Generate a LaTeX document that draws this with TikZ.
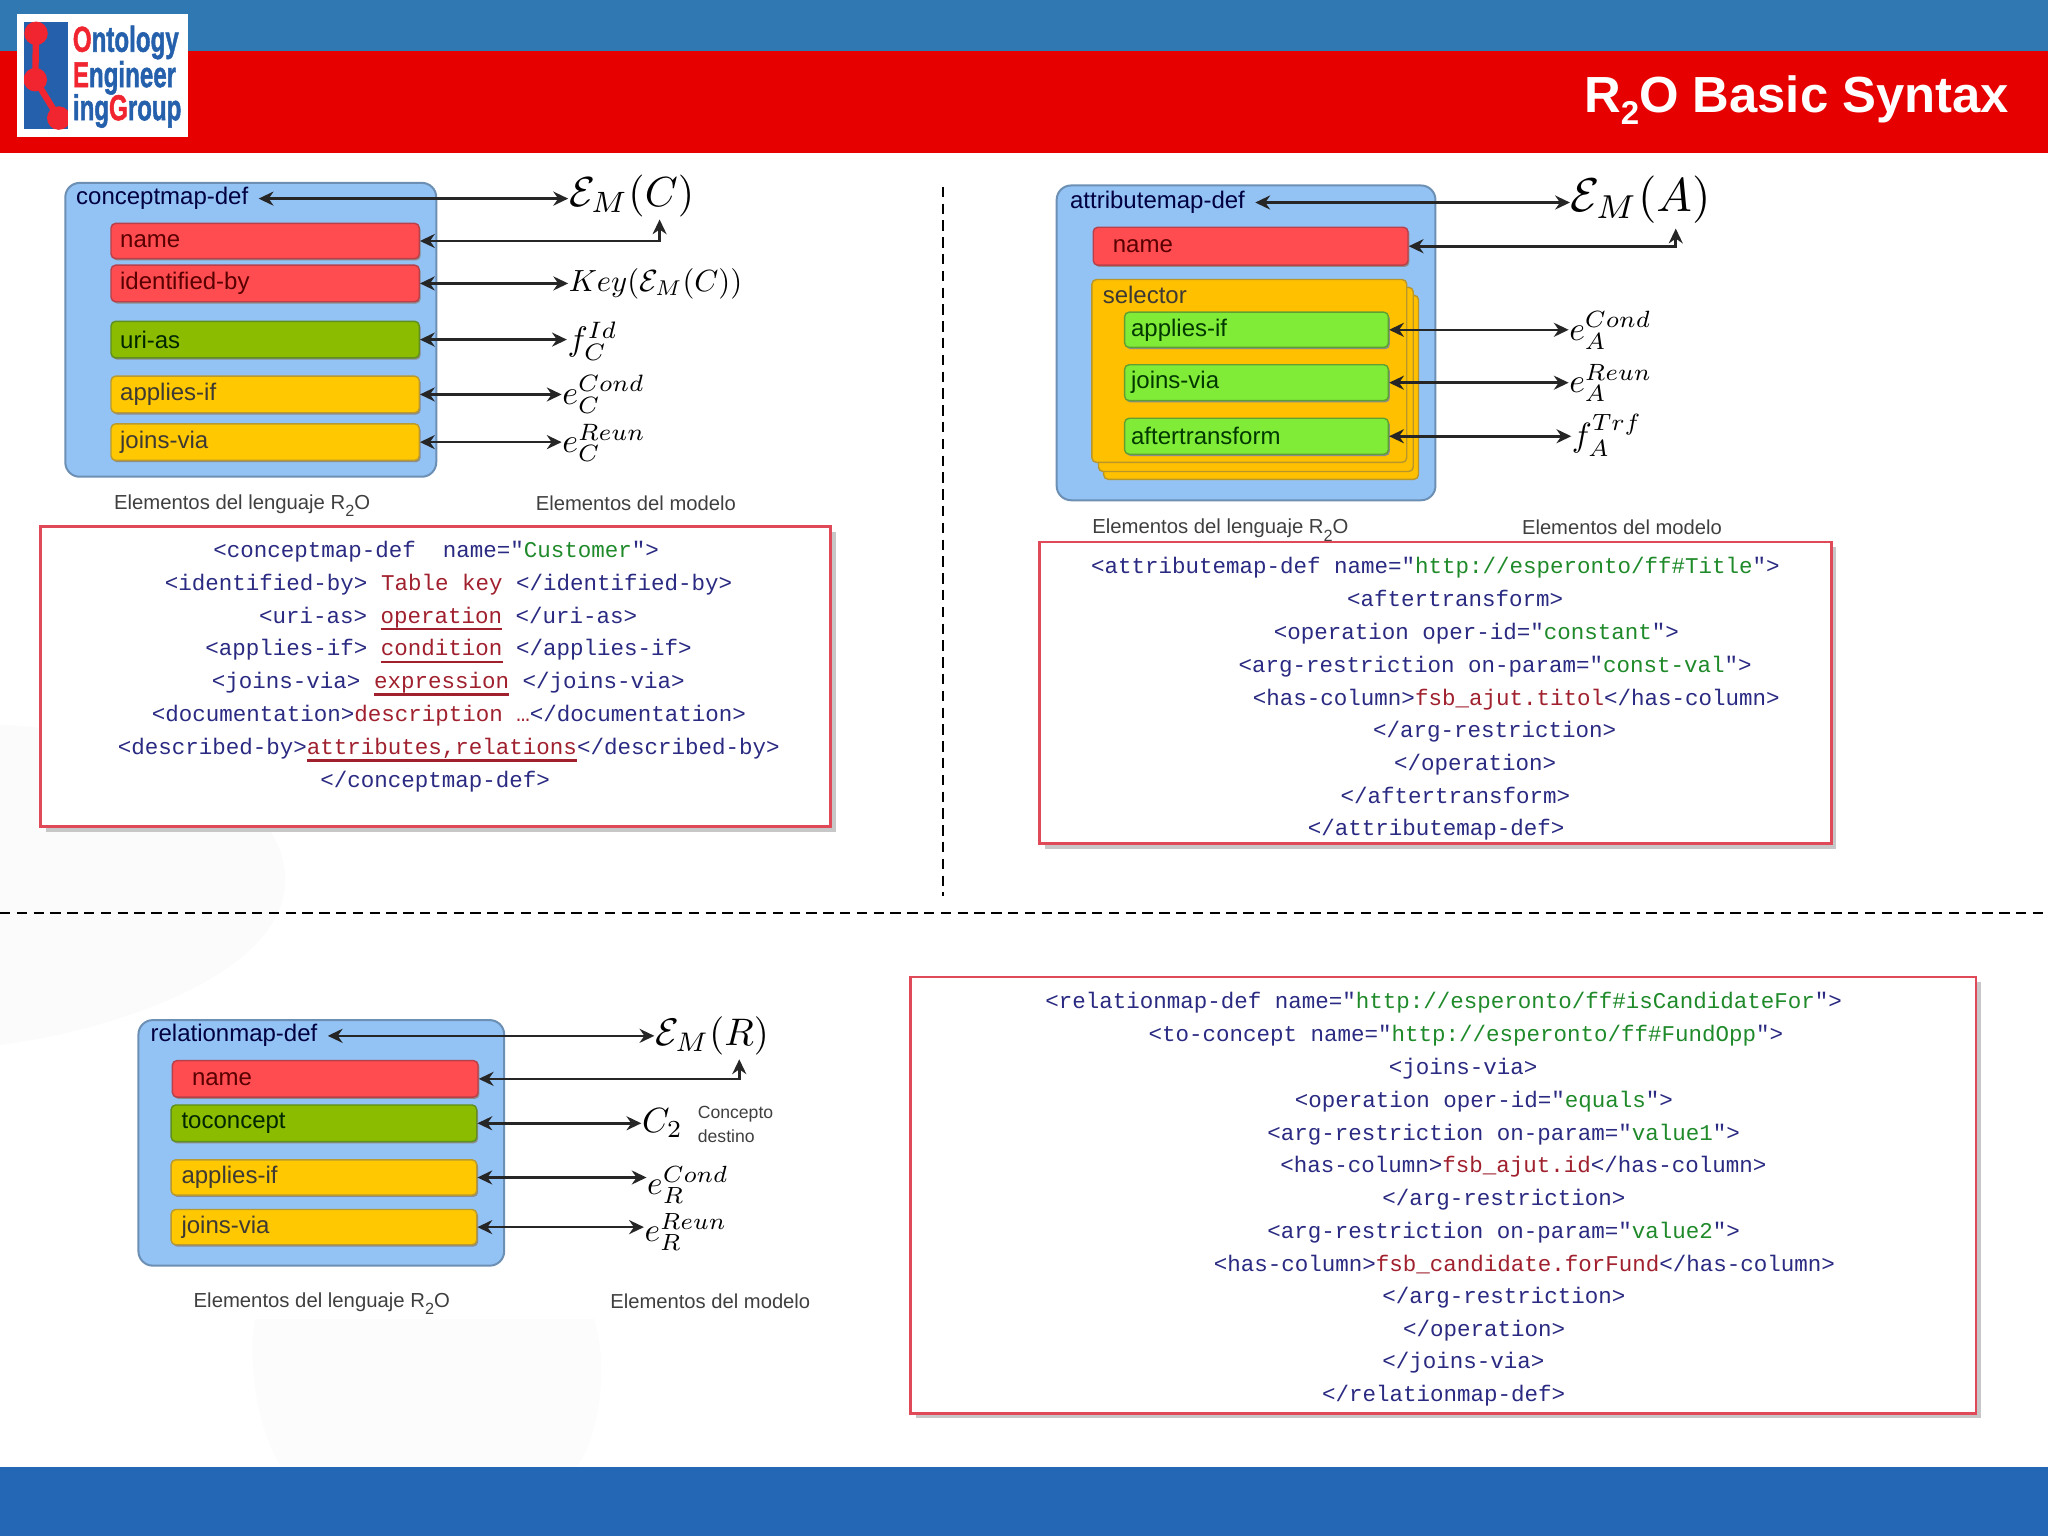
\documentclass[tikz,border=0pt]{standalone}
\usepackage[no-math]{fontspec}
\usepackage{graphicx}
\setmainfont{Liberation Sans}
\newfontfamily\codefont{Liberation Mono}
\newfontfamily\logofont[BoldFeatures={RawFeature={embolden=1.6}}]{Liberation Sans}
\usetikzlibrary{arrows.meta,shadows}
\def\U{0.65306pt}
\definecolor{hdrblue}{HTML}{2F78B2}
\definecolor{hdrred}{HTML}{E60000}
\definecolor{footblue}{HTML}{2468B5}
\definecolor{logoblue}{HTML}{2460AC}
\definecolor{logored}{HTML}{F02530}
\definecolor{bigfill}{HTML}{93C2F4}
\definecolor{bigedge}{HTML}{6C8FB4}
\definecolor{redfill}{HTML}{FF4C50}
\definecolor{rededge}{HTML}{B8404A}
\definecolor{grnfill}{HTML}{8CBC00}
\definecolor{grnedge}{HTML}{5F8F20}
\definecolor{yelfill}{HTML}{FFC800}
\definecolor{yeledge}{HTML}{B89A30}
\definecolor{limefill}{HTML}{80EC38}
\definecolor{limeedge}{HTML}{5FA030}
\definecolor{orgfill}{HTML}{FFC000}
\definecolor{orgedge}{HTML}{B8962A}
\definecolor{boxred}{HTML}{E04A58}
\definecolor{tagblue}{HTML}{2A2A82}
\definecolor{valgreen}{HTML}{1F8A2A}
\definecolor{valred}{HTML}{A0202E}
\definecolor{capgray}{HTML}{3F3F3F}
\newcommand\lowtwo{\raisebox{-0.24em}{\scalebox{0.65}{2}}}
\newcommand\caplow{\raisebox{-0.36em}{\scalebox{0.8}{2}}}
\newcommand\rd[1]{\textcolor{valred}{#1}}
\newcommand\gr[1]{\textcolor{valgreen}{#1}}
\newcommand\ulrd[1]{\textcolor{valred}{\setbox0\hbox{#1}\rlap{\rule[-3.6pt]{\wd0}{1.1pt}}\box0}}
\newcommand\codeline[4]{\node[codetext] (#1) at (#2,#3+6) {#4};}
\tikzset{
  pbox/.style n args={3}{rectangle,rounded corners=3.5*\U,minimum width=#1*\U,minimum height=#2*\U,
    text width={(#1-2*#3)*\U},inner xsep=#3*\U,inner ysep=0pt,align=left,font=\fontsize{12}{12}\selectfont,line width=0.7pt,
    copy shadow={shadow xshift=0.7pt,shadow yshift=-0.9pt,draw=none,fill=black!45}},
  bigbox/.style 2 args={rectangle,rounded corners=11*\U,minimum width=#1*\U,minimum height=#2*\U,draw=bigedge,fill=bigfill,line width=1pt,inner sep=0pt},
  redb/.style={draw=rededge,fill=redfill,text=red!35!black},
  grnb/.style={draw=grnedge,fill=grnfill,text=green!15!black},
  yelb/.style={draw=yeledge,fill=yelfill,text=yellow!12!black},
  limeb/.style={draw=limeedge,fill=limefill,text=green!22!black},
  stackb/.style={draw=orgedge,fill=orgfill,rounded corners=3.5*\U,line width=0.7pt},
  deftext/.style={anchor=base west,inner sep=0pt,text=blue!25!black,font=\fontsize{12}{12}\selectfont},
  seltext/.style={anchor=west,inner sep=0pt,text=yellow!12!black,font=\fontsize{12}{12}\selectfont},
  captext/.style={anchor=west,inner sep=0pt,text=capgray,font=\fontsize{10.15}{10.15}\selectfont},
  captwo/.style={anchor=west,inner sep=0pt,text=capgray,font=\fontsize{10.1}{10.1}\selectfont},
  smalltext/.style={anchor=west,inner sep=0pt,text=capgray,font=\fontsize{8.8}{8.8}\selectfont},
  mathlbl/.style={anchor=west,inner sep=0pt,scale=#1},
  codebox/.style 2 args={rectangle,minimum width=#1*\U,minimum height=#2*\U,draw=boxred,fill=white,line width=1.3pt,
    copy shadow={shadow xshift=2.6pt,shadow yshift=-2.6pt,draw=none,fill=black!22}},
  codetext/.style={anchor=base west,inner sep=0pt,text=tagblue,font=\codefont\fontsize{11.25}{11.25}\selectfont},
  conn/.style={black!85,line width=1.3pt,{Stealth[length=7.4pt,width=7pt,inset=2.4pt]}-{Stealth[length=7.4pt,width=7pt,inset=2.4pt]}},
  sepline/.style={black,line width=1.1pt,dash pattern=on 5.2pt off 3.2pt},
}
\begin{document}
\begin{tikzpicture}[x=\U,y=-\U]
\useasboundingbox (0,0) rectangle (1568,1176);
% faint background
\fill[black!1.5] (0,555) .. controls (120,560) and (225,610) .. (218,680) .. controls (210,750) and (80,790) .. (0,800) -- cycle;
\fill[black!1] (195,1010) -- (455,1010) .. controls (470,1060) and (450,1120) .. (440,1123) -- (215,1123) .. controls (195,1090) and (190,1040) .. (195,1010) -- cycle;
% header and footer
\fill[hdrblue] (0,0) rectangle (1568,39);
\fill[hdrred] (0,39) rectangle (1568,117.5);
\fill[footblue] (0,1123) rectangle (1568,1176);
% logo
\fill[white] (13,11) rectangle (144,105);
\fill[logoblue] (18.5,16.8) rectangle (52,99);
\begin{scope}
\clip (18.5,16.8) rectangle (52,99);
\draw[logored,line width=3.2pt] (27.6,25.5) -- (27,61) -- (45,90.4);
\fill[logored] (27.6,25.5) ellipse[x radius=9*\U,y radius=9*\U] (27,61) ellipse[x radius=9*\U,y radius=9*\U] (45,90.4) ellipse[x radius=9*\U,y radius=9*\U];
\end{scope}
\node[anchor=base west,inner sep=0pt,text=logoblue,font=\logofont\bfseries\fontsize{18}{18}\selectfont] (logoa) at (55.5,39.6) {\scalebox{0.67}[1]{\textcolor{logored}{O}ntology}};
\node[anchor=base west,inner sep=0pt,text=logoblue,font=\logofont\bfseries\fontsize{18}{18}\selectfont] (logob) at (55.5,66.7) {\scalebox{0.67}[1]{\textcolor{logored}{E}ngineer}};
\node[anchor=base west,inner sep=0pt,text=logoblue,font=\logofont\bfseries\fontsize{18}{18}\selectfont] (logoc) at (55.5,92) {\scalebox{0.67}[1]{ing\textcolor{logored}{G}roup}};
% title
\node[anchor=base east,inner sep=0pt,text=white,font=\bfseries\fontsize{25.4}{25.4}\selectfont] (title) at (1538.5,86.3) {R\lowtwo O Basic Syntax};
% separators
\coordinate (va) at (722,143); \coordinate (vb) at (722,686);
\coordinate (ha) at (0,699); \coordinate (hb) at (1568,699);
\draw[sepline] (va) -- (vb);
\draw[sepline] (ha) -- (hb);

% ---------- concept map
\node[bigbox={284}{225}] (cbig) at (192,252.5) {};
\node[pbox={236}{27}{7},redb] (cname) at (203,184.5) {name};
\node[pbox={236}{28}{7},redb] (cid) at (203,217) {identified-by};
\node[pbox={236}{28}{7},grnb] (curi) at (203,260) {uri-as};
\node[pbox={236}{28}{7},yelb] (capp) at (203,302) {applies-if};
\node[pbox={236}{28}{7},yelb] (cjoin) at (203,338.5) {joins-via};
\node[deftext] (cdef) at (58,156.5) {conceptmap-def};
\node[mathlbl=2.1] (cem) at (435,150) {$\mathcal{E}_M(C)$};
\node[mathlbl=1.53] (ckey) at (435,217) {$Key(\mathcal{E}_M(C))$};
\node[mathlbl=1.7] (cf) at (434,261) {$f_C^{Id}$};
\node[mathlbl=1.69] (ce1) at (430,302) {$e_C^{Cond}$};
\node[mathlbl=1.69] (ce2) at (430,339) {$e_C^{Reun}$};
\coordinate (ctip) at (505,168);
\draw[conn,shorten <=5pt] ([yshift=2.9pt]cdef.base east) -- ([yshift=2.9pt]cdef.base east -| cem.west);
\draw[conn] (cname.east) -| (ctip);
\draw[conn] (cid.east) -- (cid.east -| ckey.west);
\draw[conn] (curi.east) -- (curi.east -| cf.west);
\draw[conn] (capp.east) -- (capp.east -| ce1.west);
\draw[conn] (cjoin.east) -- (cjoin.east -| ce2.west);
\node[captext] (ccap1) at (87,387) {Elementos del lenguaje R\caplow O};
\node[captwo] (ccap2) at (410,385) {Elementos del modelo};

\node[codebox={605}{230}] (cbox) at (333.5,518) {};
\codeline{ca}{163}{421}{<conceptmap-def~~name="\gr{Customer}">}
\codeline{cb}{126}{446}{<identified-by> \rd{Table key} </identified-by>}
\codeline{cc}{198}{471}{<uri-as> \ulrd{operation} </uri-as>}
\codeline{cd}{157}{496}{<applies-if> \ulrd{condition} </applies-if>}
\codeline{ce}{162}{521}{<joins-via> \ulrd{expression} </joins-via>}
\codeline{cf2}{116}{546.5}{<documentation>\rd{description …}</documentation>}
\codeline{cg}{90}{571.5}{<described-by>\ulrd{attributes,relations}</described-by>}
\codeline{ch}{245}{597}{</conceptmap-def>}

% ---------- attribute map
\node[bigbox={290}{241}] (abig) at (954,262.5) {};
\node[pbox={241}{29}{15},redb] (aname) at (957.5,188.5) {name};
\draw[stackb] (845,226) rectangle (1086,367);
\draw[stackb] (841,220) rectangle (1082,361);
\node[rectangle,rounded corners=3.5*\U,minimum width=241*\U,minimum height=140*\U,inner sep=0pt,draw=orgedge,fill=orgfill,line width=0.7pt] (asel) at (956.5,284) {};
\node[seltext] (aseltxt) at (844,226) {selector};
\node[pbox={202}{27}{5},limeb] (aapp) at (962,252.5) {applies-if};
\node[pbox={202}{27.5}{5},limeb] (ajoin) at (962,293) {joins-via};
\node[pbox={202}{27.5}{5},limeb] (aaft) at (962,334) {aftertransform};
\node[deftext] (adef) at (819,159.5) {attributemap-def};
\node[mathlbl=2.37] (aem) at (1202,153) {$\mathcal{E}_M(A)$};
\node[mathlbl=1.68] (ae1) at (1201,253) {$e_A^{Cond}$};
\node[mathlbl=1.68] (ae2) at (1201,293) {$e_A^{Reun}$};
\node[mathlbl=1.68] (af) at (1203,333) {$f_A^{Trf}$};
\coordinate (atip) at (1283,175);
\draw[conn,shorten <=5pt] ([yshift=2.9pt]adef.base east) -- ([yshift=2.9pt]adef.base east -| aem.west);
\draw[conn] (aname.east) -| (atip);
\draw[conn] (aapp.east) -- (aapp.east -| ae1.west);
\draw[conn] (ajoin.east) -- (ajoin.east -| ae2.west);
\draw[conn] (aaft.east) -- (aaft.east -| af.west);
\node[captext] (acap1) at (836,406) {Elementos del lenguaje R\caplow O};
\node[captwo] (acap2) at (1165,404) {Elementos del modelo};

\node[codebox={606}{231}] (abox) at (1099,530.5) {};
\codeline{aa}{835}{433}{<attributemap-def name="\gr{http://esperonto/ff\#Title}">}
\codeline{ab}{1031}{458}{<aftertransform>}
\codeline{ac}{975}{483.5}{<operation oper-id="\gr{constant}">}
\codeline{ad}{948}{508.5}{<arg-restriction on-param="\gr{const-val}">}
\codeline{ae}{959}{534}{<has-column>\rd{fsb\_ajut.titol}</has-column>}
\codeline{aff}{1051}{559}{</arg-restriction>}
\codeline{ag}{1067}{584}{</operation>}
\codeline{ah}{1026}{609}{</aftertransform>}
\codeline{ai}{1001}{634}{</attributemap-def>}

% ---------- relation map
\node[bigbox={280}{188}] (rbig) at (246,875) {};
\node[pbox={234}{28}{15},redb] (rname) at (249,826) {name};
\node[pbox={234}{28}{8},grnb] (rto) at (248,860) {toconcept};
\node[pbox={234}{27}{8},yelb] (rapp) at (248,901.5) {applies-if};
\node[pbox={234}{27}{8},yelb] (rjoin) at (248,939.5) {joins-via};
\node[deftext] (rdef) at (115,797.5) {relationmap-def};
\node[mathlbl=1.92] (rem) at (501,793) {$\mathcal{E}_M(R)$};
\node[mathlbl=1.75] (rc) at (491,860) {$C_2$};
\node[mathlbl=1.67] (re1) at (495,907) {$e_R^{Cond}$};
\node[mathlbl=1.67] (re2) at (493,943) {$e_R^{Reun}$};
\node[smalltext] (rs1) at (534,853) {Concepto};
\node[smalltext] (rs2) at (534,870) {destino};
\coordinate (rtip) at (566,811);
\draw[conn,shorten <=5pt] ([yshift=2.9pt]rdef.base east) -- ([yshift=2.9pt]rdef.base east -| rem.west);
\draw[conn] (rname.east) -| (rtip);
\draw[conn] (rto.east) -- (rto.east -| rc.west);
\draw[conn] (rapp.east) -- (rapp.east -| re1.west);
\draw[conn] (rjoin.east) -- (rjoin.east -| re2.west);
\node[captext] (rcap1) at (148,998) {Elementos del lenguaje R\caplow O};
\node[captwo] (rcap2) at (467,996) {Elementos del modelo};

\node[codebox={816}{334}] (rbox) at (1105,915) {};
\codeline{ra}{800}{766}{<relationmap-def name="\gr{http://esperonto/ff\#isCandidateFor}">}
\codeline{rb}{879}{791.5}{<to-concept name="\gr{http://esperonto/ff\#FundOpp}">}
\codeline{rc2}{1063}{816.5}{<joins-via>}
\codeline{rd2}{991}{842}{<operation oper-id="\gr{equals}">}
\codeline{re}{970}{867}{<arg-restriction on-param="\gr{value1}">}
\codeline{rf}{980}{892}{<has-column>\rd{fsb\_ajut.id}</has-column>}
\codeline{rg}{1058}{917}{</arg-restriction>}
\codeline{rh}{970}{942}{<arg-restriction on-param="\gr{value2}">}
\codeline{ri}{929}{967.5}{<has-column>\rd{fsb\_candidate.forFund}</has-column>}
\codeline{rj}{1058}{992}{</arg-restriction>}
\codeline{rk}{1074}{1017}{</operation>}
\codeline{rl}{1058}{1042}{</joins-via>}
\codeline{rm}{1012}{1067}{</relationmap-def>}
\end{tikzpicture}
\end{document}
